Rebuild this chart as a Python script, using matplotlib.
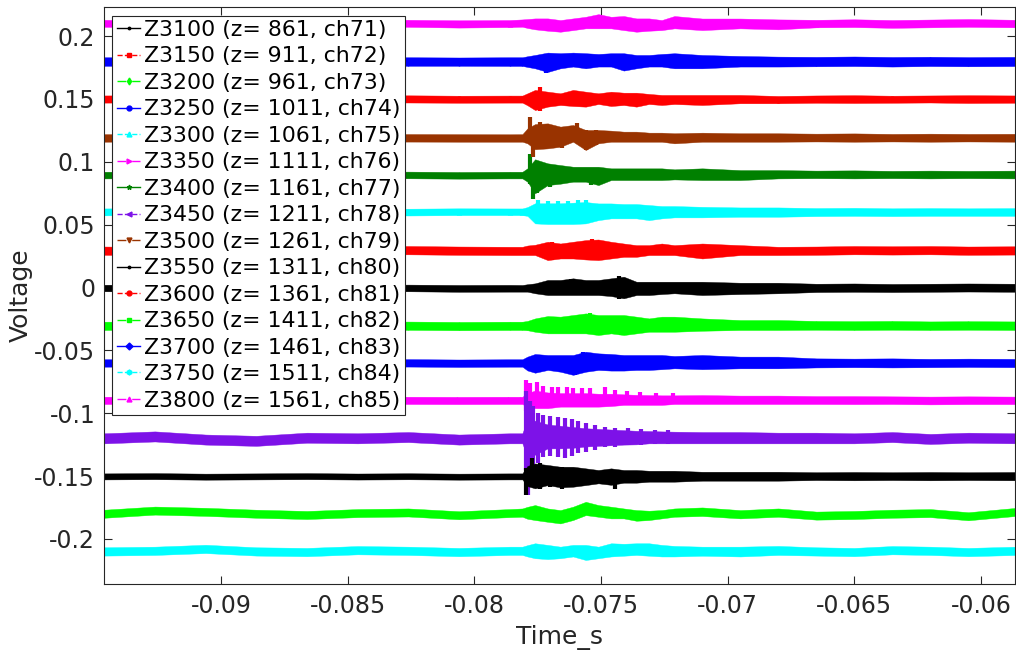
import numpy as np
import matplotlib
matplotlib.use("Agg")
import matplotlib.pyplot as plt

plt.rcParams['font.family'] = ['DejaVu Sans']
plt.rcParams['axes.unicode_minus'] = False

# shared time knots (ms)
T_MS = [-94.6, -92.6, -90.6, -88.6, -86.6, -84.6, -82.6, -80.6, -78.6,
        -78.1, -77.9, -77.6, -77.1, -76.6, -76.1, -75.6, -75.1, -74.6, -74.1,
        -73.6, -73.1, -72.6, -72.1,
        -71.0, -69.5, -68.0, -66.5, -65.0, -63.5, -62.0, -60.5, -58.6]

NAMES = ["Z3100 (z= 861, ch71)", "Z3150 (z= 911, ch72)", "Z3200 (z= 961, ch73)",
         "Z3250 (z= 1011, ch74)", "Z3300 (z= 1061, ch75)", "Z3350 (z= 1111, ch76)",
         "Z3400 (z= 1161, ch77)", "Z3450 (z= 1211, ch78)", "Z3500 (z= 1261, ch79)",
         "Z3550 (z= 1311, ch80)", "Z3600 (z= 1361, ch81)", "Z3650 (z= 1411, ch82)",
         "Z3700 (z= 1461, ch83)", "Z3750 (z= 1511, ch84)", "Z3800 (z= 1561, ch85)"]
OFFSETS = [0.0, 0.03, -0.03, -0.06, 0.06, -0.09, 0.09, -0.12, 0.12,
           -0.15, 0.15, -0.18, 0.18, -0.21, 0.21]

# band upper / lower edges (mV relative to offset) at T_MS
HI_Z3100 = [2.2, 2.4, 2.0, 2.2, 2.4, 2.1, 2.3, 2.0, 2.1, 2.0, 2.6, 3.3, 6.0, 6.0, 7.3, 6.0, 6.0, 7.3, 8.6, 4.6, 4.6, 4.6, 4.6, 4.6, 3.8, 3.8, 3.0, 3.2, 2.8, 3.0, 3.2, 3.0]
LO_Z3100 = [-3.0, -3.2, -3.4, -3.0, -3.2, -3.3, -3.0, -3.4, -3.3, -3.3, -3.3, -4.6, -6.0, -6.0, -6.0, -6.0, -6.0, -6.8, -8.6, -6.0, -6.0, -5.2, -4.6, -6.0, -5.2, -4.6, -3.6, -3.4, -3.6, -3.4, -3.2, -3.4]
HI_Z3150 = [2.6, 2.2, 2.8, 2.4, 2.2, 2.8, 3.0, 2.6, 2.4, 2.4, 3.4, 4.0, 6.4, 5.0, 6.4, 7.7, 8.2, 6.4, 5.0, 3.7, 3.7, 5.0, 3.7, 5.0, 3.7, 2.4, 2.6, 3.0, 2.8, 3.0, 2.6, 2.8]
LO_Z3150 = [-4.0, -4.4, -3.8, -4.2, -4.4, -3.8, -3.6, -4.0, -4.2, -4.2, -4.2, -4.2, -8.2, -6.9, -6.9, -7.7, -8.2, -6.9, -5.6, -5.6, -4.2, -4.2, -4.2, -6.9, -4.2, -4.2, -4.0, -3.6, -3.8, -3.6, -4.0, -3.8]
HI_Z3200 = [2.8, 3.0, 2.6, 2.8, 3.0, 2.7, 2.9, 2.6, 2.8, 2.8, 3.4, 5.4, 7.3, 6.8, 8.1, 9.4, 8.1, 8.1, 8.1, 6.8, 5.4, 6.8, 6.8, 5.4, 4.1, 4.1, 3.4, 3.2, 3.4, 3.0, 3.2, 3.0]
LO_Z3200 = [-3.8, -3.6, -4.0, -3.8, -3.6, -3.9, -3.7, -4.0, -3.8, -3.8, -4.0, -5.2, -6.5, -6.5, -6.5, -6.5, -7.8, -6.5, -7.8, -6.5, -5.2, -5.2, -5.2, -4.4, -3.8, -3.8, -3.6, -3.8, -3.6, -3.8, -3.6, -3.8]
HI_Z3250 = [2.9, 3.1, 2.7, 2.9, 3.1, 2.8, 3.0, 2.7, 2.9, 2.9, 5.0, 7.1, 6.3, 6.3, 6.3, 8.9, 7.6, 7.1, 6.3, 6.3, 6.3, 6.3, 5.5, 6.3, 5.0, 5.0, 3.6, 3.4, 3.6, 3.2, 3.4, 3.2]
LO_Z3250 = [-3.0, -2.8, -3.2, -3.0, -2.8, -3.1, -2.9, -3.2, -3.0, -3.0, -6.0, -7.8, -5.6, -7.0, -9.5, -7.0, -5.6, -6.1, -6.1, -5.6, -5.6, -5.0, -4.3, -5.0, -4.3, -4.3, -3.6, -3.4, -3.6, -3.4, -3.2, -3.4]
HI_Z3300 = [2.9, 3.2, 2.6, 3.0, 2.8, 3.1, 2.7, 3.0, 2.9, 2.9, 4.0, 7.0, 7.0, 7.0, 7.5, 8.0, 6.9, 6.9, 6.4, 6.4, 5.6, 4.8, 4.8, 4.2, 3.7, 3.7, 3.2, 3.4, 3.0, 3.2, 3.0, 3.2]
LO_Z3300 = [-2.6, -2.3, -2.8, -2.4, -2.6, -2.3, -2.7, -2.4, -2.4, -2.4, -3.0, -9.0, -9.5, -9.5, -9.5, -9.0, -6.4, -5.0, -5.0, -5.0, -6.4, -5.0, -4.2, -4.2, -3.7, -3.7, -3.2, -3.0, -3.2, -3.0, -3.0, -3.0]
HI_Z3350 = [3.1, 3.3, 2.9, 3.1, 3.3, 2.9, 3.1, 3.0, 3.1, 3.1, 6.0, 8.0, 6.5, 6.0, 6.0, 6.0, 5.5, 5.5, 5.0, 4.6, 4.4, 4.2, 4.2, 4.4, 4.0, 4.0, 3.6, 3.6, 3.4, 3.2, 3.4, 3.2]
LO_Z3350 = [-2.7, -2.5, -2.9, -2.7, -2.5, -2.9, -2.7, -2.8, -2.7, -2.7, -5.0, -6.0, -6.0, -4.8, -4.8, -4.8, -4.8, -4.3, -3.4, -3.4, -3.4, -3.4, -2.7, -2.7, -2.7, -2.7, -2.7, -2.8, -2.7, -3.0, -2.8, -2.8]
HI_Z3400 = [2.1, 2.3, 1.9, 2.1, 2.3, 2.0, 2.2, 1.9, 2.1, 2.1, 4.8, 12.0, 8.8, 7.4, 6.1, 6.1, 6.1, 4.8, 4.8, 4.8, 4.8, 4.8, 4.0, 4.8, 3.4, 3.4, 3.0, 3.2, 2.8, 3.0, 2.8, 3.0]
LO_Z3400 = [-3.2, -3.0, -3.4, -3.2, -3.0, -3.3, -3.1, -3.4, -3.2, -3.2, -5.8, -15.0, -8.5, -7.4, -5.8, -5.8, -8.5, -4.5, -4.5, -4.5, -4.5, -4.5, -4.0, -4.5, -4.5, -3.2, -3.0, -3.2, -3.0, -3.2, -3.0, -3.2]
HI_Z3450 = [4.0, 5.5, 3.0, 2.0, 4.5, 4.0, 5.0, 3.0, 4.0, 4.0, 15.0, 14.0, 11.0, 10.0, 9.0, 8.0, 7.5, 7.0, 6.5, 6.0, 5.8, 5.5, 5.3, 5.0, 5.0, 4.5, 4.5, 4.0, 5.0, 3.5, 4.5, 4.0]
LO_Z3450 = [-4.0, -2.5, -5.0, -6.0, -3.5, -4.0, -3.0, -5.0, -4.0, -4.0, -15.0, -13.0, -8.0, -8.0, -7.5, -6.5, -6.0, -5.5, -5.0, -4.8, -4.0, -4.0, -4.0, -4.0, -4.0, -4.0, -4.0, -4.0, -3.0, -4.5, -3.5, -4.0]
HI_Z3500 = [2.0, 2.2, 1.8, 2.0, 2.2, 1.9, 2.1, 2.0, 1.9, 2.0, 6.6, 10.0, 10.6, 8.0, 9.3, 5.3, 5.3, 4.8, 4.0, 4.0, 3.2, 3.2, 2.7, 3.2, 2.7, 2.7, 2.4, 2.6, 2.2, 2.4, 2.2, 2.3]
LO_Z3500 = [-4.0, -3.8, -4.2, -4.0, -3.8, -4.1, -3.9, -4.0, -4.0, -4.0, -5.3, -10.0, -9.3, -8.0, -4.0, -10.6, -5.3, -4.0, -4.0, -4.0, -4.0, -4.0, -5.3, -4.0, -4.0, -4.0, -3.8, -4.0, -3.8, -4.0, -3.8, -4.0]
HI_Z3550 = [2.1, 2.3, 1.9, 2.1, 2.3, 2.0, 2.2, 1.9, 2.1, 2.1, 8.0, 10.0, 8.8, 7.4, 7.4, 6.1, 4.8, 6.1, 4.8, 4.8, 4.2, 4.2, 4.2, 3.4, 3.4, 3.4, 3.0, 3.2, 3.0, 3.2, 3.0, 3.2]
LO_Z3550 = [-2.7, -2.5, -2.9, -2.7, -2.5, -2.8, -2.6, -2.9, -2.7, -2.7, -8.0, -9.8, -7.2, -9.0, -8.5, -7.2, -5.8, -7.0, -5.3, -5.3, -4.5, -4.5, -4.5, -3.7, -3.7, -3.7, -3.2, -3.4, -3.2, -3.4, -3.2, -3.4]
HI_Z3600 = [2.8, 3.0, 2.6, 2.8, 3.0, 2.7, 2.9, 2.6, 2.7, 2.7, 4.5, 7.2, 5.8, 4.5, 7.2, 5.8, 4.5, 5.8, 5.0, 5.0, 4.0, 3.2, 3.2, 3.2, 3.2, 2.4, 2.8, 3.0, 2.6, 2.8, 3.0, 2.8]
LO_Z3600 = [-2.9, -2.7, -3.1, -2.9, -2.7, -3.0, -2.8, -3.0, -2.9, -2.9, -5.0, -8.8, -6.1, -4.8, -5.6, -6.1, -4.0, -5.6, -4.8, -6.1, -4.0, -4.8, -4.0, -4.8, -3.4, -3.4, -3.0, -3.2, -3.0, -2.8, -3.2, -3.0]
HI_Z3650 = [3.2, 5.7, 4.7, 3.2, 2.2, 3.7, 4.2, 2.0, 3.7, 4.2, 5.5, 6.9, 4.2, 2.9, 5.6, 9.5, 6.9, 5.6, 4.2, 2.9, 2.4, 2.9, 4.2, 5.0, 2.9, 4.2, 1.7, 2.2, 3.2, 3.7, 1.2, 4.7]
LO_Z3650 = [-3.2, -0.7, -1.7, -3.2, -4.2, -2.7, -2.2, -4.4, -2.7, -2.4, -4.0, -5.0, -6.4, -7.7, -5.0, -1.1, -2.4, -3.7, -3.7, -5.6, -5.0, -3.7, -2.4, -1.8, -3.7, -2.4, -4.7, -4.2, -3.2, -2.7, -5.2, -1.7]
HI_Z3700 = [3.2, 3.0, 3.4, 3.0, 3.2, 2.8, 3.2, 3.0, 3.2, 3.2, 4.0, 5.0, 6.9, 6.4, 6.9, 6.4, 5.8, 6.4, 6.4, 5.0, 5.0, 5.8, 6.4, 5.0, 4.2, 3.7, 3.5, 3.8, 3.4, 3.6, 3.3, 3.5]
LO_Z3700 = [-3.6, -3.8, -3.4, -3.6, -3.4, -3.8, -3.6, -3.6, -3.7, -3.7, -4.5, -5.6, -8.5, -5.6, -4.2, -5.6, -4.2, -4.2, -7.4, -5.6, -4.2, -4.2, -5.6, -5.6, -4.2, -4.2, -4.0, -3.8, -4.2, -3.8, -4.0, -3.8]
HI_Z3750 = [3.3, 3.8, 5.3, 3.3, 2.8, 4.3, 3.8, 2.8, 3.8, 3.8, 5.0, 6.5, 5.2, 3.8, 5.2, 5.2, 3.8, 6.5, 6.1, 6.5, 6.5, 5.2, 4.4, 3.8, 3.8, 4.4, 3.3, 2.8, 4.3, 3.8, 2.8, 3.8]
LO_Z3750 = [-3.3, -2.8, -1.3, -3.3, -3.8, -2.3, -2.8, -3.8, -2.8, -2.8, -4.0, -5.4, -6.1, -5.4, -4.0, -6.8, -5.4, -4.0, -3.4, -2.8, -3.4, -4.0, -4.0, -3.4, -4.0, -2.8, -3.3, -3.8, -2.3, -2.8, -3.8, -2.8]
HI_Z3800 = [3.0, 2.6, 3.2, 2.8, 3.0, 3.4, 3.0, 2.6, 2.8, 3.3, 3.6, 4.1, 4.1, 2.8, 4.1, 5.4, 7.5, 5.4, 6.0, 4.1, 4.1, 2.8, 6.0, 4.0, 4.0, 3.3, 3.0, 3.4, 2.8, 3.2, 3.6, 3.0]
LO_Z3800 = [-2.6, -3.0, -2.4, -2.8, -2.6, -2.2, -2.6, -3.2, -2.8, -2.5, -3.5, -4.6, -5.7, -6.5, -5.2, -3.8, -3.8, -3.8, -5.2, -6.5, -5.7, -5.2, -3.8, -5.2, -3.8, -4.6, -3.0, -2.8, -3.4, -3.0, -2.6, -3.0]

HI_LIST = [HI_Z3100, HI_Z3150, HI_Z3200, HI_Z3250, HI_Z3300, HI_Z3350, HI_Z3400, HI_Z3450,
           HI_Z3500, HI_Z3550, HI_Z3600, HI_Z3650, HI_Z3700, HI_Z3750, HI_Z3800]
LO_LIST = [LO_Z3100, LO_Z3150, LO_Z3200, LO_Z3250, LO_Z3300, LO_Z3350, LO_Z3400, LO_Z3450,
           LO_Z3500, LO_Z3550, LO_Z3600, LO_Z3650, LO_Z3700, LO_Z3750, LO_Z3800]

# individual spikes in the burst: (time ms, low mV, high mV)
SPIKES_Z3100 = [(-76.2, -5.0, 7.0), (-74.3, -9.0, 9.0)]
SPIKES_Z3150 = [(-75.37, -6.0, 8.2), (-76.95, -8.2, 6.0)]
SPIKES_Z3200 = [(-75.43, -6.0, 9.4), (-74.2, -7.8, 7.0)]
SPIKES_Z3250 = [(-75.7, -6.0, 8.9), (-76.03, -9.5, 5.0)]
SPIKES_Z3300 = [(-77.47, -8.0, 9.5), (-77.07, -8.0, 9.0), (-76.68, -8.0, 9.0), (-76.29, -8.0, 9.0),
                (-75.89, -8.0, 9.3), (-75.57, -8.0, 9.5)]
SPIKES_Z3350 = [(-77.94, -8.0, 16.4), (-77.80, -5.0, 14.0), (-77.54, -5.0, 15.0), (-77.28, -5.0, 12.0),
                (-76.94, -5.0, 11.0), (-76.68, -5.0, 10.5), (-76.35, -5.0, 10.5), (-76.1, -5.0, 10.0),
                (-75.76, -5.0, 10.0), (-75.43, -5.0, 9.8), (-74.84, -4.0, 11.0), (-74.45, -4.0, 8.5),
                (-73.99, -3.4, 7.5), (-73.46, -3.4, 7.0), (-72.81, -3.4, 6.3), (-72.15, -3.0, 6.3)]
SPIKES_Z3400 = [(-77.80, -8.0, 16.2), (-77.67, -19.9, 5.0), (-77.54, -15.0, 8.0), (-77.35, -12.0, 7.0),
                (-77.0, -10.0, 7.5), (-76.6, -7.0, 6.5), (-75.4, -8.5, 5.0)]
SPIKES_Z3450 = [(-77.97, -25.0, 38.0), (-77.87, -45.0, 12.0), (-77.80, -35.0, 30.0), (-77.67, -25.0, 26.0),
                (-77.50, -20.0, 20.0), (-77.28, -15.0, 18.6), (-77.0, -14.0, 18.0), (-76.7, -15.0, 17.0),
                (-76.4, -16.0, 16.0), (-76.15, -14.0, 15.0), (-75.9, -12.0, 14.0), (-75.6, -11.0, 12.0),
                (-75.24, -9.3, 10.6), (-74.84, -7.0, 9.3), (-74.45, -6.6, 8.0), (-73.92, -5.3, 8.0),
                (-73.4, -5.0, 7.2), (-72.86, -4.5, 7.0), (-72.34, -4.5, 6.6)]
SPIKES_Z3500 = [(-77.80, -6.0, 15.9), (-77.67, -15.9, 8.0), (-77.41, -8.0, 11.4), (-77.01, -6.0, 9.5),
                (-76.55, -9.0, 6.0), (-75.96, -5.0, 10.6), (-75.57, -10.9, 5.0), (-75.2, -7.0, 5.0)]
SPIKES_Z3550 = [(-77.94, -15.0, 6.0), (-77.74, -6.0, 14.0), (-77.41, -10.0, 10.0), (-77.0, -9.0, 8.0),
                (-76.55, -10.0, 7.0), (-74.45, -10.6, 4.0)]
SPIKES_Z3600 = [(-77.41, -9.3, 9.5)]
SPIKES_Z3700 = [(-77.15, -9.0, 6.0)]
SPIKE_LISTS = [SPIKES_Z3100, SPIKES_Z3150, SPIKES_Z3200, SPIKES_Z3250, SPIKES_Z3300, SPIKES_Z3350,
               SPIKES_Z3400, SPIKES_Z3450, SPIKES_Z3500, SPIKES_Z3550, SPIKES_Z3600, [],
               SPIKES_Z3700, [], []]

COLORS = ['#000000', '#FF0000', '#00FF00', '#0000FF', '#00FFFF', '#FF00FF', '#008000', '#7D12E8',
          '#993300', '#000000', '#FF0000', '#00FF00', '#0000FF', '#00FFFF', '#FF00FF']
LSTYLES = ['-', '--', '-.', '-', '--', '-.', '-', '--', '-.', '-', '--', '-.', '-', '--', '-.']
MARKERS = ['.', 's', 'd', 'o', '^', '>', '*', '<', 'v', '.', 'o', 's', 'D', 'h', '^']

fig = plt.figure(figsize=(10.16, 6.52), dpi=100)
ax = fig.add_axes([0.1019, 0.1043, 0.8976, 0.885])

t = np.array(T_MS) * 1e-3
for i in range(15):
    off = OFFSETS[i]
    hi = off + np.array(HI_LIST[i]) * 1e-3
    lo = off + np.array(LO_LIST[i]) * 1e-3
    c = COLORS[i]
    ax.fill_between(t, lo, hi, color=c, lw=0.3, edgecolor=c, zorder=2 + i * 0.01)
    for (ts, sl, sh) in SPIKE_LISTS[i]:
        ax.vlines(ts * 1e-3, off + sl * 1e-3, off + sh * 1e-3, color=c, lw=3.0,
                  zorder=2 + i * 0.01)
    ax.plot(t, (hi + lo) / 2, color=c, ls=LSTYLES[i], marker=MARKERS[i], markersize=3.5,
            lw=1.0, label=NAMES[i], zorder=2 + i * 0.01)

ax.set_xlim(-0.09463, -0.05864)
ax.set_ylim(-0.2359, 0.2232)
ax.set_xticks([-0.09, -0.085, -0.08, -0.075, -0.07, -0.065, -0.06])
ax.set_xticklabels(['-0.09', '-0.085', '-0.08', '-0.075', '-0.07', '-0.065', '-0.06'])
ax.set_yticks([-0.2, -0.15, -0.1, -0.05, 0, 0.05, 0.1, 0.15, 0.2])
ax.set_yticklabels(['-0.2', '-0.15', '-0.1', '-0.05', '0', '0.05', '0.1', '0.15', '0.2'])

gray = '#262626'
for s in ax.spines.values():
    s.set_color(gray)
    s.set_linewidth(0.8)
ax.tick_params(direction='in', length=5.5, width=0.8, color=gray, labelcolor=gray,
               labelsize=17, top=True, right=True)
ax.tick_params(axis='x', pad=7)
ax.tick_params(axis='y', pad=6)
ax.set_xlabel('Time_s', fontsize=18, color=gray, labelpad=5)
ax.set_ylabel('Voltage', fontsize=18, color=gray, labelpad=1)

leg = ax.legend(loc='upper left', bbox_to_anchor=(0.0097, 0.985), borderaxespad=0,
                fontsize=15.8, handlelength=1.07, handletextpad=0.17, labelspacing=0.295,
                borderpad=0.2, fancybox=False, framealpha=1, edgecolor=gray)
leg.get_frame().set_linewidth(0.8)

fig.savefig('out.png', dpi=100)
